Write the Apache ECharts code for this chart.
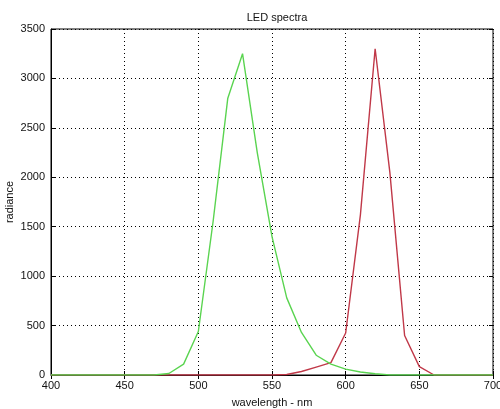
<!DOCTYPE html>
<html>
<head>
<meta charset="utf-8">
<script src="https://cdn.jsdelivr.net/npm/echarts@6/dist/echarts.min.js"></script>
<style>html,body{margin:0;padding:0;background:#fff}#c{width:500px;height:409px}</style>
</head>
<body>
<div id="c"></div>
<script>
const wavelengths = [400,410,420,430,440,450,460,470,480,490,500,510,520,530,540,550,560,570,580,590,600,610,620,630,640,650,660,670,680,690,700];
const greenLed = [0,0,0,0,0,0,0,0,15,110,440,1550,2800,3250,2250,1400,780,430,200,110,60,30,12,0,0,0,0,0,0,0,0];
const redLed =   [0,0,0,0,0,0,0,0,0,0,0,0,0,0,0,0,5,35,80,125,425,1620,3300,2050,400,85,0,0,0,0,0];
const xTicks = {min:400, max:700, step:50};
const yTicks = {min:0, max:3500, step:500};

const font = 'Liberation Sans, Arial, sans-serif';
const chart = echarts.init(document.getElementById('c'), null, {renderer:'canvas'});
const pairs = arr => wavelengths.map((w,i)=>[w, arr[i]]);
const tickStyle = {inside:true, length:4, lineStyle:{color:'#000', width:1}};
const split = {show:true, lineStyle:{color:'#000', type:[1,3], width:1}};
chart.setOption({
  animation:false,
  backgroundColor:'#fff',
  title:{text:'LED spectra', left:272, top:7, textAlign:'center',
    textStyle:{fontFamily:font, fontSize:11, fontWeight:'normal', color:'#111'}},
  grid:{left:51, right:7, top:29, bottom:34, containLabel:false, outerBoundsMode:'none',
    show:true, borderColor:'#000', borderWidth:1, backgroundColor:'#fff'},
  xAxis:[{type:'value', min:xTicks.min, max:xTicks.max, interval:xTicks.step,
      name:'wavelength - nm', nameLocation:'middle', nameGap:22, nameMoveOverlap:false,
      nameTextStyle:{fontFamily:font, fontSize:11, color:'#111'},
      axisLine:{show:true, lineStyle:{color:'#000'}}, axisTick:tickStyle,
      axisLabel:{fontFamily:font, fontSize:11, color:'#111', margin:5, formatter:v=>String(v)},
      splitLine:split},
    {type:'value', position:'top', min:xTicks.min, max:xTicks.max, interval:xTicks.step,
      axisLine:{show:false}, axisTick:tickStyle, axisLabel:{show:false}, splitLine:{show:false}}],
  yAxis:[{type:'value', min:yTicks.min, max:yTicks.max, interval:yTicks.step,
      name:'radiance', nameLocation:'middle', nameGap:36, nameRotate:90, nameMoveOverlap:false,
      nameTextStyle:{fontFamily:font, fontSize:11, color:'#111'},
      axisLine:{show:true, lineStyle:{color:'#000'}}, axisTick:tickStyle,
      axisLabel:{fontFamily:font, fontSize:11, color:'#111', margin:6, formatter:v=>String(v)},
      splitLine:split},
    {type:'value', position:'right', min:yTicks.min, max:yTicks.max, interval:yTicks.step,
      axisLine:{show:false}, axisTick:tickStyle, axisLabel:{show:false}, splitLine:{show:false}}],
  series:[
    {type:'line', name:'red', data:pairs(redLed), showSymbol:false, symbol:'none',
      lineStyle:{color:'#c03848', width:1.4}, z:2},
    {type:'line', name:'green', data:pairs(greenLed), showSymbol:false, symbol:'none',
      lineStyle:{color:'#5ad450', width:1.4}, z:3}
  ]
});
</script>
</body>
</html>
